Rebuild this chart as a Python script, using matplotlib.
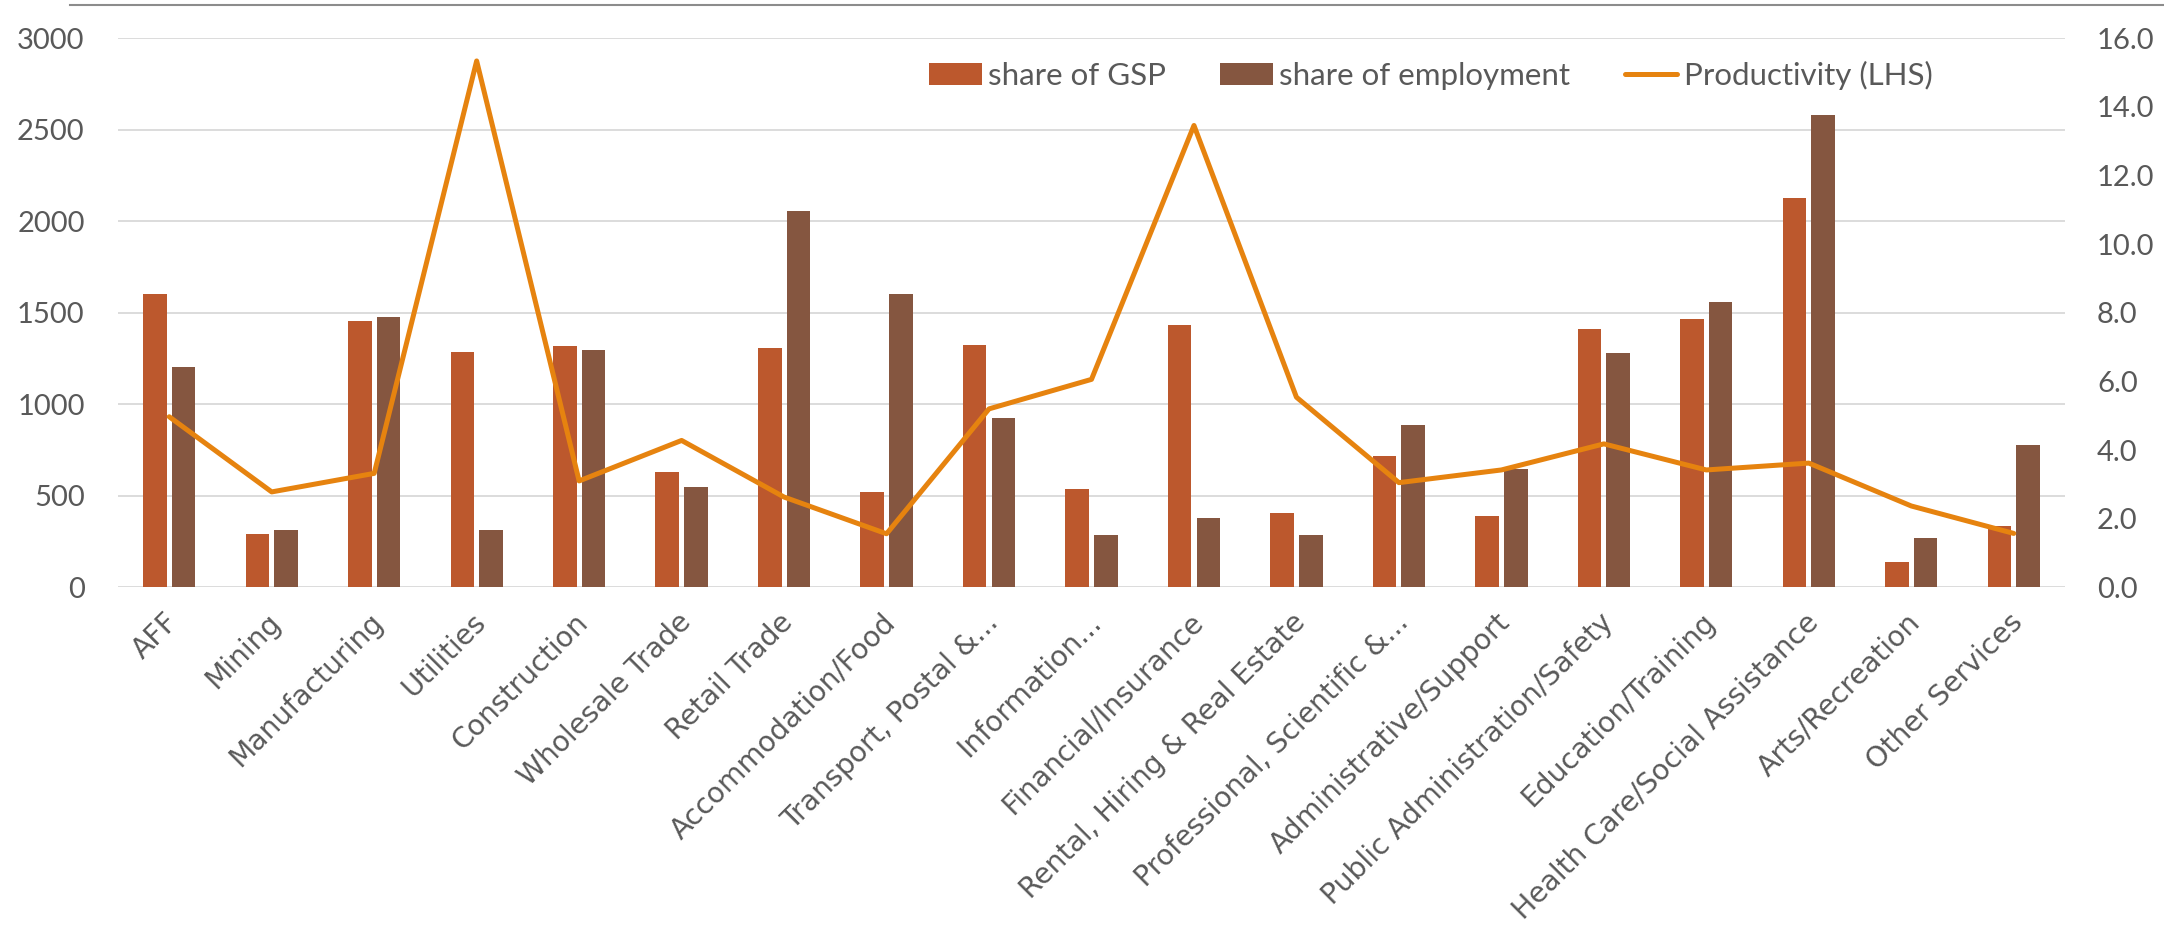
import matplotlib.pyplot as plt
import matplotlib.transforms as mtransforms
import numpy as np

# industry categories
industries = ['AFF', 'Mining', 'Manufacturing', 'Utilities', 'Construction',
              'Wholesale Trade', 'Retail Trade', 'Accommodation/Food',
              'Transport, Postal &...', 'Information...', 'Financial/Insurance',
              'Rental, Hiring & Real Estate', 'Professional, Scientific &...',
              'Administrative/Support', 'Public Administration/Safety',
              'Education/Training', 'Health Care/Social Assistance',
              'Arts/Recreation', 'Other Services']

gsp_share = [1600, 293, 1457, 1288, 1317, 632, 1306, 523, 1326, 539, 1433,
             408, 719, 392, 1410, 1468, 2125, 137, 333]
emp_share = [1206, 311, 1477, 313, 1295, 548, 2058, 1600, 923, 288, 379,
             288, 885, 645, 1282, 1557, 2583, 271, 780]
productivity = [4.97, 2.78, 3.32, 15.34, 3.10, 4.28, 2.63, 1.56, 5.20, 6.06,
                13.46, 5.54, 3.05, 3.42, 4.18, 3.42, 3.62, 2.37, 1.57]

left_ticks = [0, 500, 1000, 1500, 2000, 2500, 3000]
right_ticks = [0, 2, 4, 6, 8, 10, 12, 14, 16]

# colours (Excel-ish)
c_gsp = '#BC582D'
c_emp = '#855640'
c_line = '#E6830F'
c_grid = '#D9D9D9'
c_text = '#595959'

plt.rcParams['font.family'] = ['Lato', 'DejaVu Sans']

W, H = 2164, 926
fig = plt.figure(figsize=(W / 100, H / 100), dpi=100)
ax = fig.add_axes([118 / W, 1 - 587.3 / H, (2065 - 118) / W, (587.3 - 38.3) / H])

x = np.arange(len(industries))
bw = 0.23
ax.bar(x - 0.14, gsp_share, bw, color=c_gsp, label='share of GSP', zorder=2)
ax.bar(x + 0.14, emp_share, bw, color=c_emp, label='share of employment', zorder=2)

ax.set_xlim(-0.5, len(industries) - 0.5)
ax.set_ylim(0, 3000)
ax.set_yticks(left_ticks)
ax.set_yticklabels([str(v) for v in left_ticks])
ax.yaxis.grid(True, color=c_grid, linewidth=1.3)
ax.set_axisbelow(True)
for s in ax.spines.values():
    s.set_visible(False)
ax.tick_params(axis='y', length=0, pad=24, labelsize=21, labelcolor=c_text)
ax.tick_params(axis='x', length=0, pad=15)
ax.set_xticks(x)
ax.set_xticklabels(industries, rotation=45, ha='right', rotation_mode='anchor',
                   fontsize=20.3, color=c_text, family='DejaVu Sans')
# nudge the rotated labels a little to the left
shift = mtransforms.ScaledTranslation(-5 / 100, 0, fig.dpi_scale_trans)
for lab in ax.get_xticklabels():
    lab.set_transform(lab.get_transform() + shift)

ax2 = ax.twinx()
ax2.plot(x, productivity, color=c_line, linewidth=3.6, label='Productivity (LHS)',
         solid_joinstyle='round', solid_capstyle='round', zorder=3)
ax2.set_ylim(0, 16)
ax2.set_yticks(right_ticks)
ax2.set_yticklabels(['%.1f' % v for v in right_ticks])
for s in ax2.spines.values():
    s.set_visible(False)
ax2.tick_params(axis='y', length=0, pad=23, labelsize=21, labelcolor=c_text)

# legend across the top
h1, l1 = ax.get_legend_handles_labels()
h2, l2 = ax2.get_legend_handles_labels()
fig.legend(h1 + h2, l1 + l2, loc='center left', bbox_to_anchor=(929 / W, 1 - 75 / H),
           ncol=3, frameon=False, fontsize=22.5, labelcolor=c_text,
           handlelength=1.68, handletextpad=0.2, columnspacing=1.75,
           borderpad=0, borderaxespad=0)

# chart-area border remnant at the very top
fig.add_artist(plt.Line2D([70 / W, 1], [1 - 5 / H, 1 - 5 / H], color='#8C8C8C',
                          linewidth=1.5, transform=fig.transFigure))

fig.savefig('out.png', dpi=100, facecolor='white')
